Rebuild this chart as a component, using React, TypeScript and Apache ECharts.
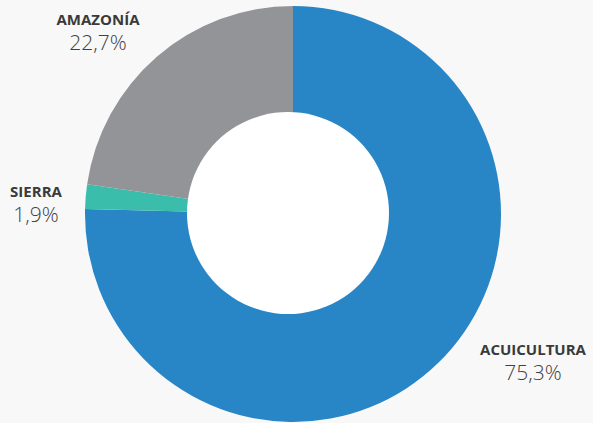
import React, { useEffect, useRef } from "react";
import * as echarts from "echarts";

const categories = ["ACUICULTURA", "SIERRA", "AMAZONÍA"];
const values = [75.3, 1.9, 22.7];
const colors = ["#2886c6", "#3bbdac", "#939497"];
const labelPos = [
  [533, 362],
  [36, 204],
  [98, 32],
];

export default function App() {
  const ref = useRef<HTMLDivElement>(null);
  useEffect(() => {
    document.body.style.margin = "0";
    const chart = echarts.init(ref.current!, null, { renderer: "svg" });
    chart.setOption({
      animation: false,
      backgroundColor: "#f8f8f8",
      series: [
        {
          type: "pie",
          center: [293, 214],
          radius: [0, 208],
          startAngle: 90,
          clockwise: true,
          silent: true,
          data: categories.map((c, i) => ({
            name: c,
            value: values[i],
            itemStyle: { color: colors[i] },
          })),
          label: {
            show: true,
            position: "inside",
            overflow: "none",
            formatter: (p: any) =>
              `{n|${p.name}}\n{v|${String(p.value).replace(".", ",")}%}`,
            rich: {
              n: {
                fontFamily: "Open Sans",
                fontWeight: "bold",
                fontSize: 15,
                color: "#3a3a3a",
                lineHeight: 20,
                align: "center",
              },
              v: {
                fontFamily: "Open Sans",
                fontWeight: 300,
                fontSize: 21,
                color: "#404040",
                lineHeight: 26,
                align: "center",
              },
            },
          },
          labelLine: { show: false },
          labelLayout: (params: any) => ({
            x: labelPos[params.dataIndex][0],
            y: labelPos[params.dataIndex][1],
            align: "center",
            verticalAlign: "middle",
          }),
        },
      ],
      graphic: [
        {
          type: "circle",
          z: 100,
          shape: { cx: 288, cy: 213, r: 101 },
          style: { fill: "#ffffff" },
          silent: true,
        },
      ],
    });
    return () => chart.dispose();
  }, []);
  return <div ref={ref} style={{ width: 593, height: 423 }} />;
}
